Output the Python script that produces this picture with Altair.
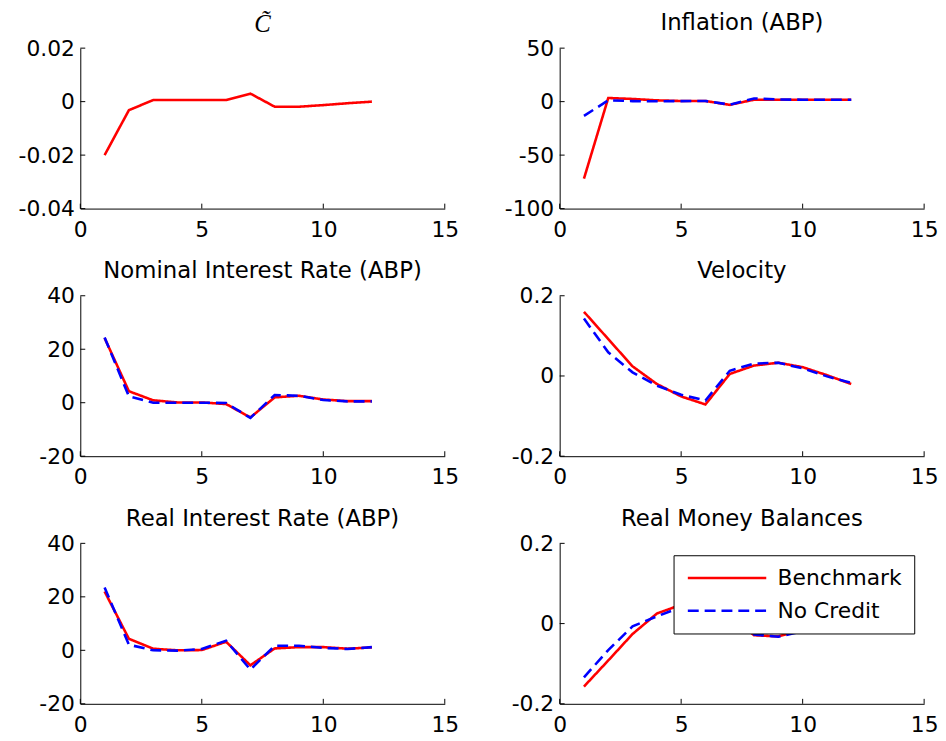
import altair as alt
import pandas as pd

periods = list(range(1, 13))
x_ticks = [0, 5, 10, 15]
series_names = ["Benchmark", "No Credit"]

c_bench = [-0.020, -0.0032, 0.0006, 0.0006, 0.0006, 0.0006, 0.0030, -0.0019, -0.0019, -0.0013, -0.0006, 0.0]
infl_bench = [-72.0, 3.4, 2.5, 1.2, 0.6, 0.6, -3.0, 1.8, 1.8, 1.8, 1.8, 1.8]
infl_nocred = [-13.3, 1.2, 0.5, 0.3, 0.5, 0.6, -2.8, 3.0, 2.0, 1.8, 1.8, 1.8]
nom_bench = [24.2, 4.3, 0.9, 0.1, 0.1, -0.5, -5.5, 2.0, 2.6, 1.2, 0.6, 0.6]
nom_nocred = [24.4, 2.4, 0.0, 0.0, 0.0, -0.1, -5.7, 2.9, 2.6, 1.0, 0.5, 0.5]
vel_bench = [0.160, 0.092, 0.024, -0.020, -0.051, -0.071, 0.005, 0.026, 0.033, 0.022, 0.002, -0.020]
vel_nocred = [0.143, 0.059, 0.009, -0.024, -0.047, -0.061, 0.013, 0.031, 0.033, 0.019, -0.001, -0.017]
real_bench = [22.0, 4.3, 0.6, 0.0, 0.1, 3.2, -5.6, 0.7, 1.2, 1.2, 0.6, 1.1]
real_nocred = [23.5, 2.1, 0.0, -0.1, 0.5, 3.6, -7.2, 1.7, 1.7, 0.9, 0.5, 1.2]
rmb_bench = [-0.157, -0.092, -0.026, 0.025, 0.047, 0.045, 0.020, -0.029, -0.032, -0.016, -0.005, 0.0]
rmb_nocred = [-0.134, -0.066, -0.007, 0.018, 0.041, 0.040, 0.018, -0.027, -0.033, -0.019, -0.006, 0.0]

c_ticks = [-0.04, -0.02, 0, 0.02]
infl_ticks = [-100, -50, 0, 50]
rate_ticks = [-20, 0, 20, 40]
small_ticks = [-0.2, 0, 0.2]

W, H = 368, 162
FONT = "DejaVu Sans"


def panel(title, bench, nocred, yticks, serif=False, legend=False):
    rows = [{"period": p, "value": v, "series": "Benchmark"} for p, v in zip(periods, bench)]
    if nocred is not None:
        rows += [{"period": p, "value": v, "series": "No Credit"} for p, v in zip(periods, nocred)]
    df = pd.DataFrame(rows)
    xscale = alt.Scale(domain=[0, 15], nice=False, zero=False)
    yscale = alt.Scale(domain=[yticks[0], yticks[-1]], nice=False, zero=False)
    xaxis = alt.Axis(values=x_ticks, title=None, labelExpr="'' + datum.value",
                     labelPadding=11, tickSize=0, domainColor="black", grid=False,
                     labelFont=FONT, labelFontSize=22, labelColor="black")
    yaxis = alt.Axis(values=yticks, title=None, labelExpr="'' + datum.value",
                     labelPadding=6, tickSize=0, domainColor="black", grid=False,
                     labelFont=FONT, labelFontSize=22, labelColor="black")
    if legend:
        leg = alt.Legend(
            orient="none", legendX=115, legendY=12, title=None,
            fillColor="white", strokeColor="black", padding=12,
            labelFont=FONT, labelFontSize=22, labelColor="black",
            symbolType="M-4.4,0H4.4", symbolSize=324, symbolStrokeWidth=2.5,
            symbolOffset=31, labelOffset=40, rowPadding=11, labelLimit=400,
        )
    else:
        leg = None
    lines = alt.Chart(df).mark_line(strokeWidth=2.6).encode(
        x=alt.X("period:Q", scale=xscale, axis=xaxis),
        y=alt.Y("value:Q", scale=yscale, axis=yaxis),
        color=alt.Color("series:N", scale=alt.Scale(domain=series_names, range=["#ff0000", "#0000ff"]), legend=leg),
        strokeDash=alt.StrokeDash("series:N", scale=alt.Scale(domain=series_names, range=[[1, 0], [11, 6]]), legend=leg),
    )
    xt = alt.Chart(pd.DataFrame({"period": x_ticks})).mark_rule(color="black", strokeWidth=1).encode(
        x=alt.X("period:Q", scale=xscale, axis=xaxis), y=alt.value(H), y2=alt.value(H - 5))
    yt = alt.Chart(pd.DataFrame({"value": yticks})).mark_rule(color="black", strokeWidth=1).encode(
        y=alt.Y("value:Q", scale=yscale, axis=yaxis), x=alt.value(0), x2=alt.value(5))
    if serif:
        tp = alt.TitleParams(title, font="Liberation Serif", fontStyle="italic", fontSize=25,
                             fontWeight="normal", frame="group", offset=0, color="black")
    else:
        tp = alt.TitleParams(title, font=FONT, fontSize=23, fontWeight="normal",
                             frame="group", offset=2, color="black")
    return alt.layer(lines, xt, yt).properties(width=W, height=H, title=tp).resolve_scale(
        color="independent", strokeDash="independent")


charts = [
    panel("C\u0303", c_bench, None, c_ticks, serif=True),
    panel("Inflation (ABP)", infl_bench, infl_nocred, infl_ticks),
    panel("Nominal Interest Rate (ABP)", nom_bench, nom_nocred, rate_ticks),
    panel("Velocity", vel_bench, vel_nocred, small_ticks),
    panel("Real Interest Rate (ABP)", real_bench, real_nocred, rate_ticks),
    panel("Real Money Balances", rmb_bench, rmb_nocred, small_ticks, legend=True),
]

chart = alt.concat(*charts, columns=2, spacing={"row": 88, "column": 116}, bounds="flush").resolve_scale(
    color="independent", strokeDash="independent"
).properties(
    padding={"left": 10, "top": 1, "right": 0, "bottom": 0}, background="white"
).configure_view(stroke="transparent", strokeWidth=0).configure_axis(
    labelFont=FONT, labelFontSize=22, labelColor="black", domainColor="black",
    domainWidth=1, grid=False, labelFlush=False, labelOverlap=False
)

chart.save("out.html", embed_options={"renderer": "svg", "actions": False})
